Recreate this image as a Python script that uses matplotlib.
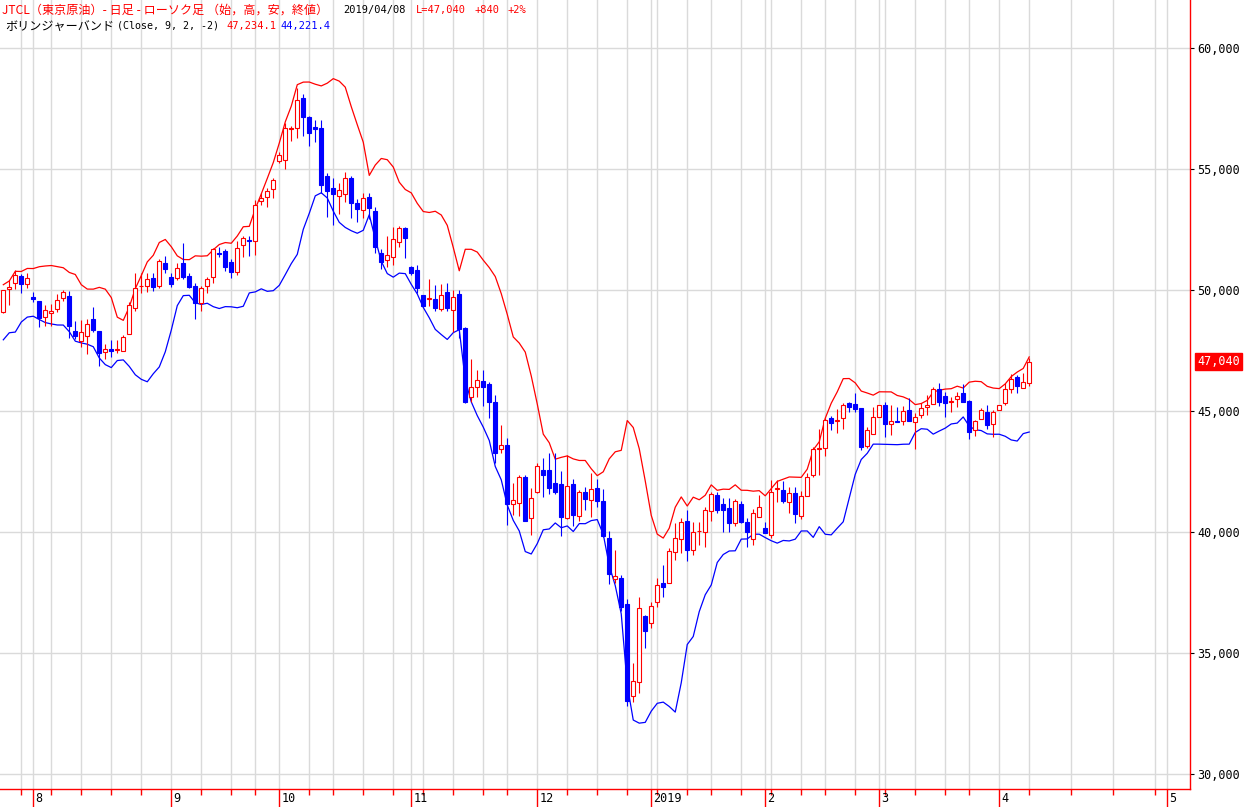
import numpy as np
import pandas as pd
import matplotlib
matplotlib.use("Agg")
import matplotlib.pyplot as plt
from matplotlib.ticker import FixedLocator, FuncFormatter, NullFormatter

# trading calendar (TOCOM), last bar 2019/04/08
start_day = "2018-07-25"
last_day = "2019-04-08"
axis_end = "2019-05-10"
holidays = ["2018-09-17", "2018-09-24", "2018-10-08", "2018-11-23",
            "2018-12-24", "2018-12-31", "2019-01-01", "2019-01-02",
            "2019-01-03", "2019-01-14", "2019-02-11", "2019-03-21"]

# daily OHLC (yen / kl)
opens = [49100, 50030, 50280, 50590, 50240, 49700, 49550, 48870, 49040, 49200,
         49660, 49750, 48310, 47910, 48110, 48800, 48320, 47420, 47580, 47530,
         47490, 48170, 49240, 50150, 50170, 50480, 50170, 51100, 50520, 50510,
         51100, 50580, 50170, 49480, 50170, 50550, 51530, 51620, 51160, 50730,
         51860, 52070, 52040, 53690, 53860, 54160, 55330, 55370, 56650, 56680,
         57920, 57160, 56720, 56710, 54710, 54230, 53900, 53970, 54620, 53580,
         53310, 53860, 53250, 51540, 51220, 51350, 51970, 52550, 50940, 50830,
         49790, 49620, 49630, 49200, 49920, 49170, 49830, 48420, 45590, 46010,
         46250, 46110, 45390, 43420, 43600, 41140, 41210, 42290, 40590, 41660,
         42560, 42560, 42040, 41980, 40570, 41980, 40670, 41650, 41330, 41810,
         41280, 39770, 38050, 38090, 37030, 33220, 33820, 36530, 36230, 37100,
         37880, 37880, 39160, 39700, 40450, 39260, 40030, 40010, 40870, 41530,
         41140, 41000, 40360, 41160, 40430, 39710, 40630, 40150, 39880, 41760,
         41740, 41250, 41600, 40660, 41470, 42360, 43420, 43460, 44700, 44600,
         44700, 45340, 45290, 45110, 43550, 44040, 44740, 45250, 44450, 44600,
         44590, 45040, 44560, 44830, 45180, 45280, 45900, 45620, 45360, 45480,
         45730, 45410, 44210, 44660, 44970, 44460, 45020, 45340, 45900, 46390,
         45940, 46150]
highs = [50000, 50410, 50830, 50650, 50690, 49900, 49550, 49380, 49420, 49820,
         50000, 49960, 48720, 48760, 48800, 49310, 48320, 47760, 47930, 47930,
         48140, 49520, 50720, 50690, 50690, 50690, 51270, 51420, 50690, 51100,
         51960, 50690, 50280, 50170, 50550, 51720, 51760, 51680, 51270, 52040,
         52230, 52230, 53700, 54000, 54200, 54620, 55710, 56890, 56780, 58330,
         58100, 57190, 57020, 57020, 54820, 54620, 54410, 54890, 54710, 53750,
         54020, 54020, 53440, 51680, 52230, 52620, 52640, 52620, 50990, 51030,
         49790, 50450, 50210, 50250, 50300, 50000, 50000, 48480, 47150, 46690,
         46690, 46210, 45640, 44400, 43870, 42040, 42360, 42360, 41800, 42870,
         43050, 43260, 43250, 42500, 43180, 42180, 41720, 41860, 42430, 42180,
         41770, 40020, 39260, 38220, 37220, 34570, 37310, 36570, 37120, 38090,
         38640, 39330, 40360, 40590, 40910, 40430, 40430, 41020, 41670, 41670,
         41420, 41390, 41350, 41290, 40570, 40940, 41530, 40400, 42150, 42150,
         42110, 41870, 41870, 41710, 42430, 43530, 44240, 44700, 44790, 45070,
         45340, 45390, 45760, 45110, 44350, 45180, 45250, 45390, 45250, 45180,
         45210, 45520, 44900, 45320, 45660, 46000, 46140, 45770, 45590, 45800,
         46120, 45450, 44630, 45110, 45250, 45040, 45250, 46140, 46530, 46490,
         46580, 47200]
lows = [49050, 49380, 50030, 49890, 50070, 49490, 48480, 48510, 48510, 49100,
        49550, 48000, 47980, 47630, 47370, 48280, 46870, 47140, 47250, 47380,
        47490, 48170, 49150, 49890, 49900, 49970, 50070, 50690, 50140, 50410,
        50440, 50070, 48810, 49150, 49860, 50280, 51350, 50800, 50480, 50620,
        51380, 51410, 51450, 53510, 53440, 53790, 55230, 54990, 56170, 56290,
        56360, 55950, 56120, 54020, 53000, 52690, 53140, 53650, 52990, 52820,
        52960, 52920, 51540, 50860, 50960, 51030, 51790, 51310, 50620, 49860,
        49310, 49340, 49130, 49130, 49130, 48280, 48000, 45320, 45390, 45590,
        45220, 44720, 42870, 43250, 40290, 40700, 40670, 40470, 39880, 41600,
        41460, 41570, 41550, 39840, 40520, 40250, 40470, 40910, 40610, 41050,
        39810, 37840, 37880, 36750, 32810, 32990, 33340, 35190, 36020, 36880,
        37330, 37880, 38840, 39150, 38820, 39050, 39460, 39390, 40450, 40770,
        40010, 40010, 40250, 40360, 39370, 39460, 40630, 39950, 39740, 41250,
        41190, 40800, 40380, 40530, 41470, 42290, 42360, 43140, 44210, 44100,
        44240, 44970, 44970, 43390, 43480, 44040, 44740, 43920, 44010, 44540,
        44420, 44590, 43420, 44700, 44830, 45280, 45210, 44760, 44970, 45180,
        45390, 43840, 43980, 44660, 44260, 43940, 45020, 45250, 45730, 45760,
        45940, 46050]
closes = [50000, 50110, 50620, 50240, 50480, 49640, 48830, 49170, 49130, 49590,
          49900, 48510, 48100, 48250, 48590, 48350, 47410, 47560, 47480, 47560,
          48040, 49380, 50100, 50170, 50440, 50140, 51200, 50860, 50240, 50900,
          50550, 50140, 49480, 50070, 50440, 51680, 51490, 50960, 50740, 51720,
          52140, 52030, 53500, 53810, 54090, 54550, 55580, 56680, 56690, 57850,
          57160, 56500, 56650, 54340, 54100, 53970, 54130, 54620, 53610, 53340,
          53800, 53380, 51760, 51170, 51450, 52100, 52550, 52160, 50720, 50070,
          49350, 49660, 49240, 49790, 49270, 49700, 48370, 45390, 45980, 46280,
          46010, 45390, 43280, 43600, 41160, 41320, 42290, 40470, 41390, 42730,
          42360, 41830, 41660, 40610, 41920, 40700, 41650, 41370, 41770, 41260,
          39840, 38250, 38180, 36920, 33030, 33840, 36850, 35920, 36940, 37810,
          37740, 39210, 39770, 40400, 39260, 39990, 40060, 40910, 41560, 40910,
          40910, 40380, 41280, 40430, 40010, 40770, 41020, 39970, 41670, 41800,
          41290, 41600, 40730, 41490, 42290, 43420, 43460, 44630, 44490, 44640,
          45250, 45180, 45070, 43530, 44210, 44770, 45250, 44450, 44590, 44560,
          45000, 44590, 44760, 45110, 45250, 45900, 45360, 45340, 45410, 45630,
          45390, 44150, 44600, 45020, 44420, 44960, 45250, 45900, 46310, 46030,
          46200, 47040]
# closes of the 8 sessions before the first visible bar (band warm-up)
pre_closes = [48100, 48700, 48400, 49000, 49500, 49100, 49600, 49300]

bb_period = 9
bb_k = 2

price_ticks = [30000, 35000, 40000, 45000, 50000, 55000, 60000]

# header texts as shown on the chart
title_txt = "JTCL（東京原油）- 日足 - ローソク足 （始，高，安，終値）"
date_txt = "2019/04/08"
last_txt = "L=47,040"
chg_txt = "+840"
pct_txt = "+2%"
bb_name = "ボリンジャーバンド"
bb_args = "(Close, 9, 2, -2)"
bb_up_txt = "47,234.1"
bb_lo_txt = "44,221.4"

RED = "#ff0000"
BLUE = "#0000ff"
GRID = "#dadada"
JP = ["Noto Sans CJK JP", "DejaVu Sans"]
MONO = "DejaVu Sans Mono"


def main():
    days = pd.bdate_range(start_day, last_day, freq="C", holidays=holidays)
    n = len(closes)
    x = np.arange(n)
    last = days[-1]

    # bollinger bands on close, 9, +2 / -2 sigma
    s = pd.Series(pre_closes + closes, dtype=float)
    mid = s.rolling(bb_period).mean()
    sd = s.rolling(bb_period).std(ddof=0)
    upper = (mid + bb_k * sd).values[len(pre_closes):]
    lower = (mid - bb_k * sd).values[len(pre_closes):]

    # week / month ticks (trading days, then calendar days after last bar)
    week_pos, month_pos, month_lab = [], [], []
    for i, d in enumerate(days):
        if i > 0 and d.isocalendar()[1] != days[i - 1].isocalendar()[1]:
            week_pos.append(i)
        if i > 0 and d.month != days[i - 1].month:
            month_pos.append(i)
            month_lab.append(str(d.year) if d.month == 1 else str(d.month))
    for d in pd.date_range(last + pd.Timedelta(days=1), axis_end):
        p = n - 1 + (d - last).days
        if d.weekday() == 0:
            week_pos.append(p)
        if d.day == 1:
            month_pos.append(p)
            month_lab.append(str(d.month))

    W, H = 1244, 807
    fig = plt.figure(figsize=(W / 100, H / 100), dpi=100)
    ax = fig.add_axes([0, 18 / H, 1190 / W, 789 / H])

    o = np.array(opens, float)
    h = np.array(highs, float)
    l = np.array(lows, float)
    c = np.array(closes, float)
    up = c >= o
    col = np.where(up, RED, BLUE)

    ax.vlines(x, l, h, colors=col, linewidth=0.8, zorder=3)
    body = np.maximum(np.abs(c - o), 30)
    ax.bar(x[up], body[up], bottom=np.minimum(o, c)[up], width=0.72,
           facecolor="white", edgecolor=RED, linewidth=0.8, zorder=4)
    ax.bar(x[~up], body[~up], bottom=np.minimum(o, c)[~up], width=0.72,
           facecolor=BLUE, edgecolor=BLUE, linewidth=0.8, zorder=4)

    ax.plot(x, upper, color=RED, linewidth=0.9, zorder=2)
    ax.plot(x, lower, color=BLUE, linewidth=0.9, zorder=2)

    ax.set_xlim(-0.55, 197.8)
    ax.set_ylim(29380, 61980)

    for side in ["top", "left"]:
        ax.spines[side].set_visible(False)
    for side in ["right", "bottom"]:
        ax.spines[side].set_color(RED)
        ax.spines[side].set_linewidth(1.0)

    ax.yaxis.tick_right()
    ax.yaxis.set_major_locator(FixedLocator(price_ticks))
    ax.yaxis.set_major_formatter(FuncFormatter(lambda v, p: f"{v:,.0f}"))
    ax.tick_params(axis="y", length=3, width=0.8, color="black", pad=2,
                   labelsize=8.5)
    for t in ax.get_yticklabels():
        t.set_family(MONO)

    ax.xaxis.set_major_locator(FixedLocator(month_pos))
    ax.xaxis.set_minor_locator(FixedLocator(week_pos))
    ax.xaxis.set_major_formatter(NullFormatter())
    ax.tick_params(axis="x", which="major", length=13, width=1.0, color=RED)
    ax.tick_params(axis="x", which="minor", length=4, width=1.0, color=RED)
    for p, lab in zip(month_pos, month_lab):
        ax.text(p + 0.35, -0.004, lab, transform=ax.get_xaxis_transform(),
                ha="left", va="top", fontsize=8.5, family=MONO, color="black")

    ax.grid(axis="y", color=GRID, linewidth=1.0, zorder=0)
    ax.grid(axis="x", which="both", color=GRID, linewidth=1.0, zorder=0)
    ax.set_axisbelow(True)

    # last price tag
    ax.text(1.006, closes[-1], f"{closes[-1]:,}", transform=ax.get_yaxis_transform(),
            ha="left", va="center", fontsize=8.5, family=MONO, color="white",
            bbox=dict(boxstyle="square,pad=0.15", facecolor=RED, edgecolor=RED),
            clip_on=False)

    # header
    def head(px, py, txt, color, fam=JP, size=8.7):
        fig.text(px / W, 1 - py / H, txt, color=color, fontsize=size,
                 family=fam, ha="left", va="center")

    head(2, 10, title_txt, RED)
    head(343, 10, date_txt, "black", MONO, 7.5)
    head(416, 10, last_txt, RED, MONO, 7.5)
    head(474, 10, chg_txt, RED, MONO, 7.5)
    head(507, 10, pct_txt, RED, MONO, 7.5)
    head(5, 26, bb_name, "black")
    head(117, 26, bb_args, "black", MONO, 7.2)
    head(226, 26, bb_up_txt, RED, MONO, 7.5)
    head(280, 26, bb_lo_txt, BLUE, MONO, 7.5)

    fig.savefig("out.png", dpi=100, facecolor="white")


if __name__ == "__main__":
    main()
